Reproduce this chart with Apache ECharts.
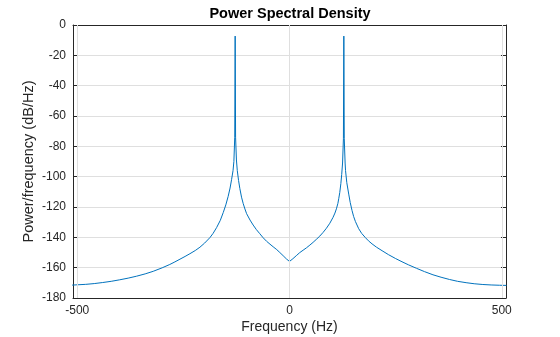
<!DOCTYPE html>
<html>
<head>
<meta charset="utf-8">
<script src="https://cdn.jsdelivr.net/npm/echarts@6/dist/echarts.min.js"></script>
<style>
html,body{margin:0;padding:0;background:#fff;}
#chart{width:560px;height:337px;}
</style>
</head>
<body>
<div id="chart"></div>
<script>
// Frequency (Hz) and PSD (dB/Hz)
const freqHz = [
  -512,-500,-480,-460,-440,-420,-400,-380,-360,-340,-321,-300,-282,-270,-258,-246,-234.6,-222,-211,-200,
  -187.5,-180,-171.8,-163,-156,-150,-144.5,-140,-136.5,-133,-131,-129,-128,-127,-125,-123,-120,-117,-113,
  -109,-105,-101,-93,-85.6,-78,-70,-62,-54,-46,-38.6,-30,-22.8,-15,-7,-3,0,
  3,8,16,24,32,40,48,55.6,63,71.3,79,87,95,102.6,107,110.5,114,116,118.4,121,123,125,127,128,
  129,131,132,135,139.5,143,147.3,151,155.3,163,170,178.8,186,194.4,205,218,233,250,265,280,299,
  318,338,357,377,396,416,435,455.5,475,495,511
];
const psdDb = [
  -171.5,-171.3,-171.0,-170.5,-169.8,-169.0,-168.0,-166.9,-165.6,-164.1,-162.4,-160.1,-157.9,-156.2,-154.4,-152.6,-150.8,-148.7,-146.5,-143.8,
  -140.2,-137.4,-133.6,-128.8,-123.6,-118.6,-113.0,-107.5,-102.0,-96.0,-90.0,-74.0,-7.3,-74.0,-89.0,-96.0,-102.5,-107.8,-113.5,
  -117.8,-121.3,-124.4,-128.6,-131.9,-134.9,-137.6,-140.3,-142.6,-144.5,-146.2,-148.1,-150.0,-152.1,-154.3,-155.3,-155.9,
  -155.4,-154.1,-152.1,-150.1,-148.5,-146.9,-145.1,-143.3,-141.4,-139.2,-136.8,-134.0,-130.7,-126.8,-124.0,-121.2,-117.6,-114.5,-110.5,-104.5,-98.5,-91.0,-75.0,-7.3,
  -75.0,-91.0,-96.0,-104.0,-111.5,-117.0,-122.3,-126.2,-129.6,-134.3,-137.4,-140.2,-142.3,-144.3,-146.5,-148.8,-151.4,-154.0,-156.1,-158.1,-160.4,
  -162.6,-164.7,-166.3,-167.8,-169.0,-169.9,-170.6,-171.1,-171.4,-171.6,-171.7
];
const xTicks = [-500, 0, 500];
const yTicks = [0, -20, -40, -60, -80, -100, -120, -140, -160, -180];

const titleText = 'Power Spectral Density';
const xLabel = 'Frequency (Hz)';
const yLabel = 'Power/frequency (dB/Hz)';

const FONT = '"Liberation Sans", Arial, Helvetica, sans-serif';
const axisColor = '#262626';
const gridColor = '#dfdfdf';

const lineData = freqHz.map((f, i) => [f, psdDb[i]]);

const chart = echarts.init(document.getElementById('chart'), null, {renderer: 'canvas'});
const xCommon = {
  type: 'value', min: -510, max: 510,
  axisLine: {show: true, onZero: false, lineStyle: {color: axisColor, width: 1}},
  axisTick: {show: true, inside: true, length: 5, customValues: xTicks, lineStyle: {color: axisColor}},
  splitLine: {show: false}
};
const yCommon = {
  type: 'value', min: -180, max: 0, interval: 20,
  axisLine: {show: true, onZero: false, lineStyle: {color: axisColor, width: 1}},
  axisTick: {show: true, inside: true, length: 5, lineStyle: {color: axisColor}}
};
chart.setOption({
  animation: false,
  backgroundColor: '#ffffff',
  title: {
    text: titleText, left: 290, top: 6, padding: 0, textAlign: 'center',
    textStyle: {fontFamily: FONT, fontSize: 14.5, fontWeight: 'bold', color: '#000'}
  },
  grid: {left: 73, right: 54, top: 25, bottom: 39, containLabel: false, outerBoundsMode: 'none'},
  xAxis: [
    Object.assign({}, xCommon, {
      position: 'bottom',
      name: xLabel, nameLocation: 'middle', nameGap: 22, nameMoveOverlap: false,
      nameTextStyle: {fontFamily: FONT, fontSize: 14, color: axisColor},
      axisLabel: {show: true, customValues: xTicks, margin: 7, fontFamily: FONT, fontSize: 12, color: axisColor}
    }),
    Object.assign({}, xCommon, {position: 'top', axisLabel: {show: false}})
  ],
  yAxis: [
    Object.assign({}, yCommon, {
      position: 'left',
      name: yLabel, nameLocation: 'middle', nameGap: 37, nameMoveOverlap: false,
      nameTextStyle: {fontFamily: FONT, fontSize: 14.5, color: axisColor},
      axisLabel: {show: true, margin: 7, fontFamily: FONT, fontSize: 12, color: axisColor},
      splitLine: {show: true, lineStyle: {color: gridColor, width: 1}}
    }),
    Object.assign({}, yCommon, {position: 'right', axisLabel: {show: false}, splitLine: {show: false}})
  ],
  series: [
    {
      type: 'line', xAxisIndex: 0, yAxisIndex: 0, data: [], silent: true, z: 1,
      markLine: {
        silent: true, symbol: ['none', 'none'], label: {show: false},
        lineStyle: {color: gridColor, width: 1, type: 'solid'},
        data: xTicks.map(v => ({xAxis: v}))
      }
    },
    {
      type: 'line', xAxisIndex: 0, yAxisIndex: 0, data: lineData,
      showSymbol: false, symbol: 'none', smooth: false, z: 3,
      lineStyle: {color: '#0072BD', width: 1},
      clip: true
    }
  ]
});
</script>
</body>
</html>
